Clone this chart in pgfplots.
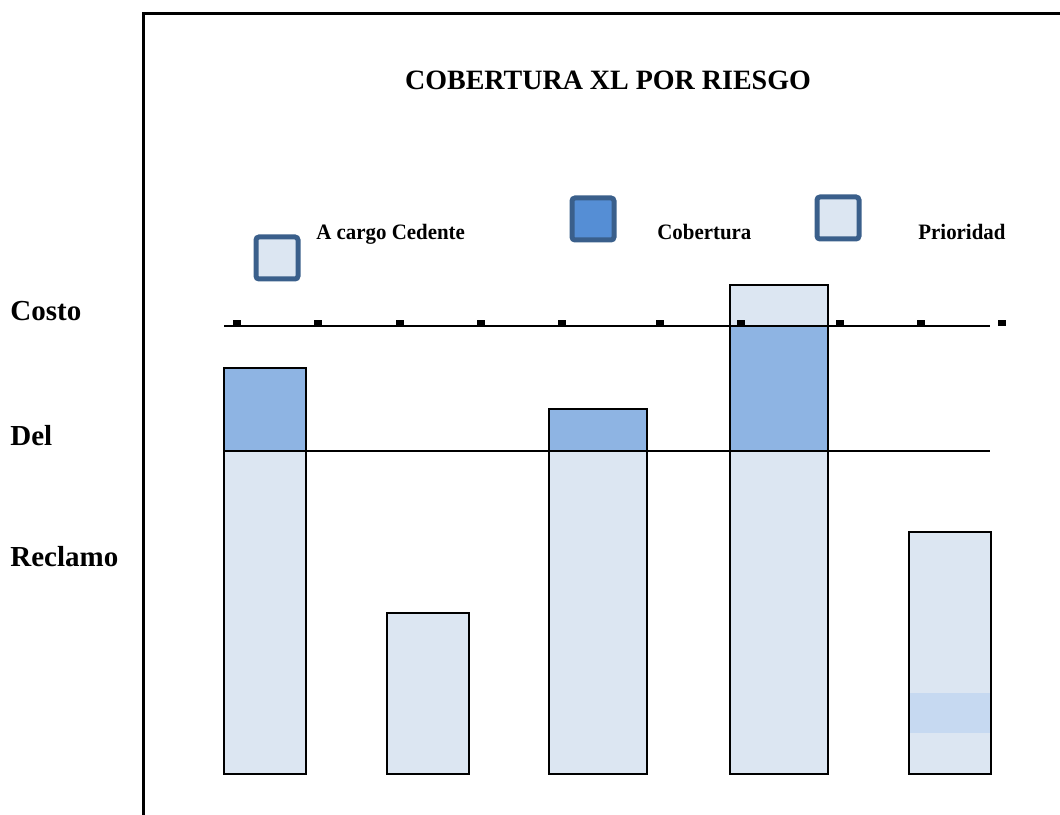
\documentclass[border=0pt]{standalone}
\usepackage{pgfplots}
\pgfplotsset{compat=1.18}
\usepackage{fontspec}
\setmainfont{Liberation Serif}

\definecolor{prio}{HTML}{DCE6F2}
\definecolor{cober}{HTML}{8EB4E3}
\definecolor{strip}{HTML}{C6D9F1}
\definecolor{legblue}{HTML}{558ED5}
\definecolor{legedge}{HTML}{3A5F8B}

\tikzset{
  legtext/.style={anchor=base west, inner sep=0pt, xscale=0.95,
                  font=\fontsize{11}{13}\selectfont\bfseries},
  legkey/.style={draw=legedge, line width=2.5pt, fill=#1, rounded corners=1.5pt,
                 minimum size=21pt, inner sep=0pt},
  sidelabel/.style={anchor=west, inner sep=0pt, font=\fontsize{14.5}{17}\selectfont\bfseries},
}

\begin{document}
\begin{tikzpicture}
\path[use as bounding box] (0,0) rectangle (530pt,407pt);
\begin{axis}[
  scale only axis, width=530pt, height=407pt,
  xmin=0, xmax=1060, ymin=-40, ymax=774,
  axis lines=none, ticks=none, clip=false,
  narrow/.style={ybar, bar shift=0pt, bar width=82},
  wide/.style={ybar, bar shift=0pt, bar width=98},
]
% --- base fill of every bar (total height)
\addplot[narrow, fill=prio, draw=none] coordinates {(265,406) (428,161) (950,242)};
\addplot[wide,   fill=prio, draw=none] coordinates {(598,365) (779,489)};
% --- cobertura band (up to its upper limit)
\addplot[narrow, fill=cober, draw=none] coordinates {(265,406)};
\addplot[wide,   fill=cober, draw=none] coordinates {(598,365) (779,448)};
% --- prioridad (below the retention line)
\addplot[narrow, fill=prio, draw=none] coordinates {(265,323)};
\addplot[wide,   fill=prio, draw=none] coordinates {(598,323) (779,323)};
% --- lighter band in the last bar
\addplot[narrow, fill=strip, draw=none] coordinates {(950,81)};
\addplot[narrow, fill=prio, draw=none] coordinates {(950,41)};
% --- retention and limit lines
\addplot[black, line width=1pt] coordinates {(224,323) (990,323)};
\addplot[black, line width=1pt] coordinates {(224,448) (990,448)};
\addplot[only marks, mark=square*, mark size=1.6pt, black, mark options={xscale=1.1, yscale=0.7}]
  coordinates {(237,451) (318,451) (400,451) (481,451) (562,451) (660,451) (741,451) (840,451) (921,451) (1002,451)};
% --- bar outlines
\addplot[narrow, fill=none, draw=black, line width=1.2pt] coordinates {(265,406) (428,161) (950,242)};
\addplot[wide,   fill=none, draw=black, line width=1.2pt] coordinates {(598,365) (779,489)};

% frame
\draw[black, line width=1.5pt] (axis cs:143,-45) -- (axis cs:143,760) -- (axis cs:1065,760);

% title
\node[font=\fontsize{14}{17}\selectfont\bfseries] at (axis cs:608,694) {COBERTURA XL POR RIESGO};

% side labels
\node[sidelabel] at (axis cs:10,463) {Costo};
\node[sidelabel] at (axis cs:10,338) {Del};
\node[sidelabel] at (axis cs:10,217) {Reclamo};

% legend keys
\node[legkey=prio]    at (axis cs:277,516) {};
\node[legkey=legblue] at (axis cs:593,555) {};
\node[legkey=prio]    at (axis cs:838,556) {};
\node[legtext] at (axis cs:316,534) {A cargo Cedente};
\node[legtext] at (axis cs:657,534) {Cobertura};
\node[legtext] at (axis cs:918,534) {Prioridad};
\end{axis}
\end{tikzpicture}
\end{document}
